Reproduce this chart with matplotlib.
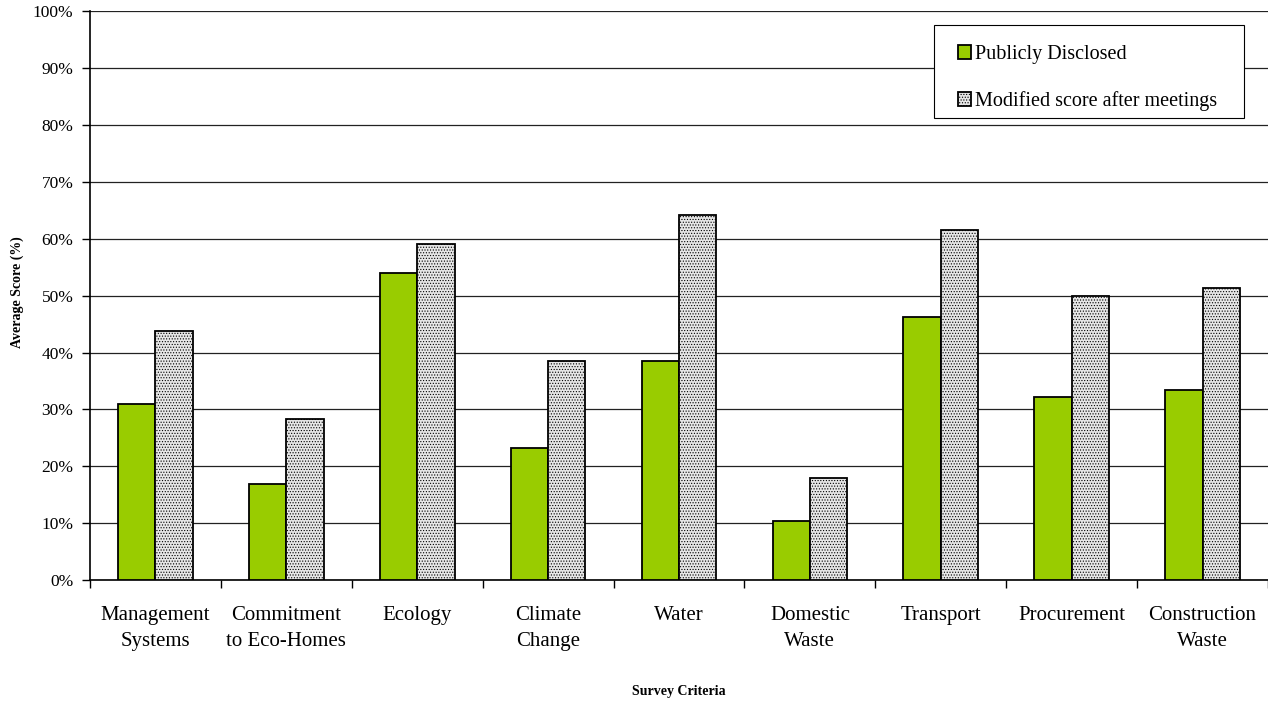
import numpy as np
import matplotlib.pyplot as plt
from matplotlib.patches import Rectangle
from matplotlib.ticker import FixedLocator, PercentFormatter

# survey criteria and average scores (%)
categories = ['Management\nSystems', 'Commitment\nto Eco-Homes', 'Ecology', 'Climate\nChange',
              'Water', 'Domestic\nWaste', 'Transport', 'Procurement', 'Construction\nWaste']
disclosed = [30.9, 16.9, 54.0, 23.2, 38.5, 10.4, 46.2, 32.2, 33.4]
modified = [43.8, 28.3, 59.1, 38.5, 64.1, 17.9, 61.5, 49.9, 51.3]

plt.rcParams['font.family'] = ['Liberation Serif', 'DejaVu Serif']
plt.rcParams['hatch.color'] = '#c8c8c8'
plt.rcParams['hatch.linewidth'] = 0.5

fig = plt.figure(figsize=(12.68, 7.04), dpi=100)
ax = fig.add_axes([0.071, 0.176, 0.929, 0.808])

x = np.arange(len(categories))
w = 0.285
ax.bar(x - w / 2, disclosed, w, color='#99cc00', edgecolor='black', linewidth=1.3,
       label='Publicly Disclosed', zorder=3)
ax.bar(x + w / 2, modified, w, color='#e6e6e6', edgecolor='black', linewidth=1.3,
       hatch='......', label='Modified score after meetings', zorder=3)

ax.set_xlim(-0.5, len(categories) - 0.5)
ax.set_ylim(0, 100)
ax.set_yticks(np.arange(0, 101, 10))
ax.yaxis.set_major_formatter(PercentFormatter(decimals=0))
ax.yaxis.grid(True, color='#222222', linewidth=0.9, zorder=0)

ax.set_xticks(x)
ax.set_xticklabels(categories, fontsize=15, linespacing=1.45)
ax.xaxis.set_minor_locator(FixedLocator(np.arange(-0.5, len(categories), 1)))
ax.tick_params(axis='x', which='major', length=0, pad=19)
ax.tick_params(axis='x', which='minor', length=6, width=1, color='black')
ax.tick_params(axis='y', labelsize=12.5, length=6, width=1, pad=6)

for s in ['top', 'right']:
    ax.spines[s].set_visible(False)
ax.spines['left'].set_linewidth(1.2)
ax.spines['bottom'].set_linewidth(1.2)

fig.text(17 / 1268, 1 - 292 / 704, 'Average Score (%)', fontsize=10, fontweight='bold',
         rotation=90, ha='center', va='center')
fig.text(679 / 1268, 1 - 692 / 704, 'Survey Criteria', fontsize=10, fontweight='bold',
         ha='center', va='center')

# legend box
ax.add_patch(Rectangle((934 / 1268, 1 - 118 / 704), 310 / 1268, 93 / 704,
                       transform=fig.transFigure, facecolor='white', clip_on=False,
                       edgecolor='black', linewidth=0.8, zorder=4))
leg = ax.legend(loc='upper left', bbox_to_anchor=(958 / 1268, 1 - 45 / 704),
                bbox_transform=fig.transFigure, fontsize=14.5, frameon=False,
                handlelength=0.65, handleheight=0.65, handletextpad=0.2, borderpad=0,
                labelspacing=1.35, borderaxespad=0)
leg.set_zorder(5)

plt.savefig('out.png', dpi=100)
